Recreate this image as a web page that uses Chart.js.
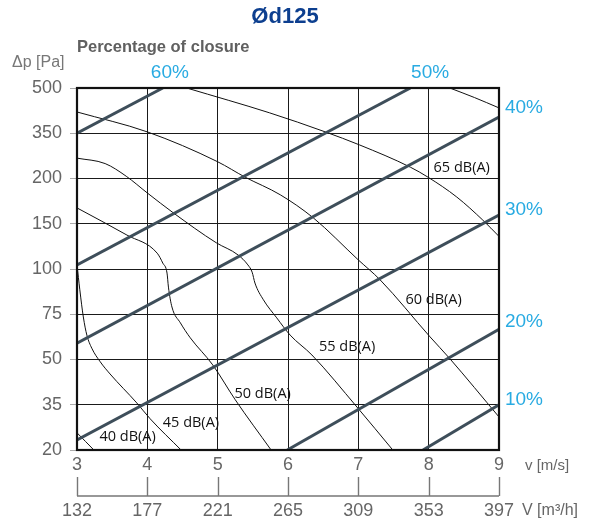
<!DOCTYPE html>
<html>
<head>
<meta charset="utf-8">
<script src="https://cdn.jsdelivr.net/npm/chart.js@4.4.1/dist/chart.umd.min.js"></script>
<style>
  html, body { margin: 0; padding: 0; background: #fff; }
  #wrap { position: relative; width: 603px; height: 519px; }
</style>
</head>
<body>
<div id="wrap"><canvas id="chart" width="603" height="519"></canvas></div>
<script>
// Axis ticks
const velocity = [3, 4, 5, 6, 7, 8, 9];
const flowLabels = [132, 177, 221, 265, 309, 353, 397];
const pressureTicks = [20, 35, 50, 75, 100, 150, 200, 350, 500]; // evenly spaced rows

// Percentage of closure lines, [v, row index]
const closureNames = ['60%', '50%', '40%', '30%', '20%', '10%'];
const closure60 = [[3, 7.0], [4.22, 8]];
const closure50 = [[3, 4.09], [7.74, 8]];
const closure40 = [[3, 2.36], [9, 7.36]];
const closure30 = [[3, 0.22], [9, 5.19]];
const closure20 = [[5.99, 0], [9, 2.67]];
const closure10 = [[7.92, 0], [9, 1.0]];

// Sound level curves, [v, row index]
const dbNames = ['70 dB(A)', '65 dB(A)', '60 dB(A)', '55 dB(A)', '50 dB(A)', '45 dB(A)', '40 dB(A)'];
const db70 = [[8.30, 8], [8.65, 7.79], [9, 7.56]];
const db65 = [[4.56, 8], [5.74, 7.45], [6.53, 7.03], [7.02, 6.74], [7.74, 6.25], [7.99, 6.03], [8.40, 5.59], [8.77, 5.08], [9, 4.72]];
const db60 = [[3, 7.47], [4.0, 7.03], [5.0, 6.37], [5.39, 6.03], [5.89, 5.64], [6.36, 5.13], [7.0, 4.2], [7.31, 3.76], [8.02, 2.5], [8.30, 2.02], [9, 0.73]];
const db55 = [[3, 6.45], [3.4, 6.33], [3.7, 6.05], [4.0, 5.68], [4.37, 5.24], [4.98, 4.58], [5.29, 4.31], [5.43, 4.09], [5.49, 3.93], [5.53, 3.69], [5.65, 3.32], [5.84, 2.92], [6.03, 2.54], [6.34, 2.10], [6.98, 0.95], [7.49, 0]];
const db50 = [[3, 5.35], [3.71, 4.75], [4.14, 4.35], [4.22, 4.13], [4.28, 3.91], [4.30, 3.60], [4.35, 3.16], [4.47, 2.81], [4.61, 2.48], [4.93, 1.88], [5.25, 1.11], [5.76, 0]];
const db45 = [[3, 4.09], [3.04, 3.54], [3.09, 2.94], [3.14, 2.54], [3.21, 2.25], [3.33, 1.95], [3.47, 1.68], [3.85, 1.04], [4.04, 0.69], [4.48, 0]];
const db40 = [[3, 0.38], [3.12, 0.19], [3.24, 0]];

const closureLines = [closure60, closure50, closure40, closure30, closure20, closure10];
const dbCurves = [db70, db65, db60, db55, db50, db45, db40];

// where the labels sit (v, row index)
const closureLabelPos = [[4.32, 8.33, 'center'], [8.02, 8.33, 'center'], [9.085, 7.56, 'left'], [9.085, 5.30, 'left'], [9.085, 2.83, 'left'], [9.085, 1.10, 'left']];
const dbLabelPos = [null, [8.47, 6.23], [8.07, 3.31], [6.84, 2.28], [5.64, 1.24], [4.62, 0.60], [3.72, 0.29]];

const toXY = pts => pts.map(p => ({ x: p[0], y: p[1] }));

const datasets = [];
closureLines.forEach((pts, i) => {
    datasets.push({
        label: closureNames[i],
        data: toXY(pts),
        borderColor: '#3e4e5a',
        borderWidth: 3,
        pointRadius: 0,
        order: 0
    });
});
dbCurves.forEach((pts, i) => {
    datasets.push({
        label: dbNames[i],
        data: toXY(pts),
        borderColor: '#111',
        borderWidth: 1,
        pointRadius: 0,
        cubicInterpolationMode: 'monotone',
        order: 1
    });
});

const decor = {
    id: 'decor',
    afterDraw(chart) {
        const { ctx, chartArea: a, scales: { x, y } } = chart;
        ctx.save();

        // plot frame
        ctx.strokeStyle = '#111';
        ctx.lineWidth = 2.2;
        ctx.strokeRect(a.left, a.top, a.right - a.left, a.bottom - a.top);

        // volume flow axis
        const axisY = 496;
        ctx.strokeStyle = '#777';
        ctx.lineWidth = 1.4;
        ctx.beginPath();
        ctx.moveTo(x.getPixelForValue(velocity[0]), axisY);
        ctx.lineTo(x.getPixelForValue(velocity[velocity.length - 1]), axisY);
        velocity.forEach(v => {
            const px = Math.round(x.getPixelForValue(v)) + 0.5;
            ctx.moveTo(px, axisY);
            ctx.lineTo(px, axisY - 19);
        });
        ctx.stroke();
        ctx.fillStyle = '#666';
        ctx.font = '18px "Liberation Sans", Arial, sans-serif';
        ctx.textAlign = 'center';
        ctx.textBaseline = 'middle';
        flowLabels.forEach((f, i) => {
            ctx.fillText(String(f), x.getPixelForValue(velocity[i]), 511);
        });

        // axis names
        ctx.textAlign = 'left';
        ctx.font = '15px "Liberation Sans", Arial, sans-serif';
        ctx.fillText('v [m/s]', 525, 466);
        ctx.font = '16px "Liberation Sans", Arial, sans-serif';
        ctx.fillText('V [m³/h]', 522, 511);
        ctx.fillStyle = '#777';
        ctx.fillText('Δp [Pa]', 12, 63);

        // titles
        ctx.fillStyle = '#606060';
        ctx.font = 'bold 16.5px "Liberation Sans", Arial, sans-serif';
        ctx.fillText('Percentage of closure', 77, 47);
        ctx.fillStyle = '#0d3f8f';
        ctx.font = 'bold 22px "Liberation Sans", Arial, sans-serif';
        ctx.textAlign = 'center';
        ctx.fillText('Ød125', 285, 17);

        // closure labels
        ctx.fillStyle = '#29abe2';
        ctx.font = '19px "Liberation Sans", Arial, sans-serif';
        closureLabelPos.forEach((p, i) => {
            ctx.textAlign = p[2];
            ctx.fillText(closureNames[i], x.getPixelForValue(p[0]), y.getPixelForValue(p[1]));
        });

        // dB labels
        ctx.fillStyle = '#111';
        ctx.font = '14.5px "Open Sans", sans-serif';
        ctx.textAlign = 'center';
        dbLabelPos.forEach((p, i) => {
            if (!p) return;
            ctx.fillText(dbNames[i], x.getPixelForValue(p[0]), y.getPixelForValue(p[1]));
        });

        ctx.restore();
    }
};

new Chart(document.getElementById('chart'), {
    type: 'line',
    data: { datasets: datasets },
    options: {
        responsive: false,
        animation: false,
        layout: { padding: { left: 0, top: 88, right: 104, bottom: 0 } },
        plugins: { legend: { display: false }, tooltip: { enabled: false } },
        scales: {
            x: {
                type: 'linear',
                min: 3,
                max: 9,
                afterFit: s => { s.height = 69; },
                border: { display: false },
                grid: { color: '#1a1a1a', lineWidth: 1, drawTicks: false },
                ticks: {
                    stepSize: 1,
                    padding: 4,
                    color: '#666',
                    font: { family: '"Liberation Sans", Arial, sans-serif', size: 18 }
                }
            },
            y: {
                type: 'linear',
                min: 0,
                max: 8,
                afterFit: s => { s.width = 77; },
                border: { display: false },
                grid: { color: '#1a1a1a', lineWidth: 1, tickLength: 7, tickColor: '#aaa' },
                ticks: {
                    stepSize: 1,
                    padding: 8,
                    color: '#666',
                    font: { family: '"Liberation Sans", Arial, sans-serif', size: 18 },
                    callback: v => pressureTicks[v]
                }
            }
        }
    },
    plugins: [decor]
});
</script>
</body>
</html>
